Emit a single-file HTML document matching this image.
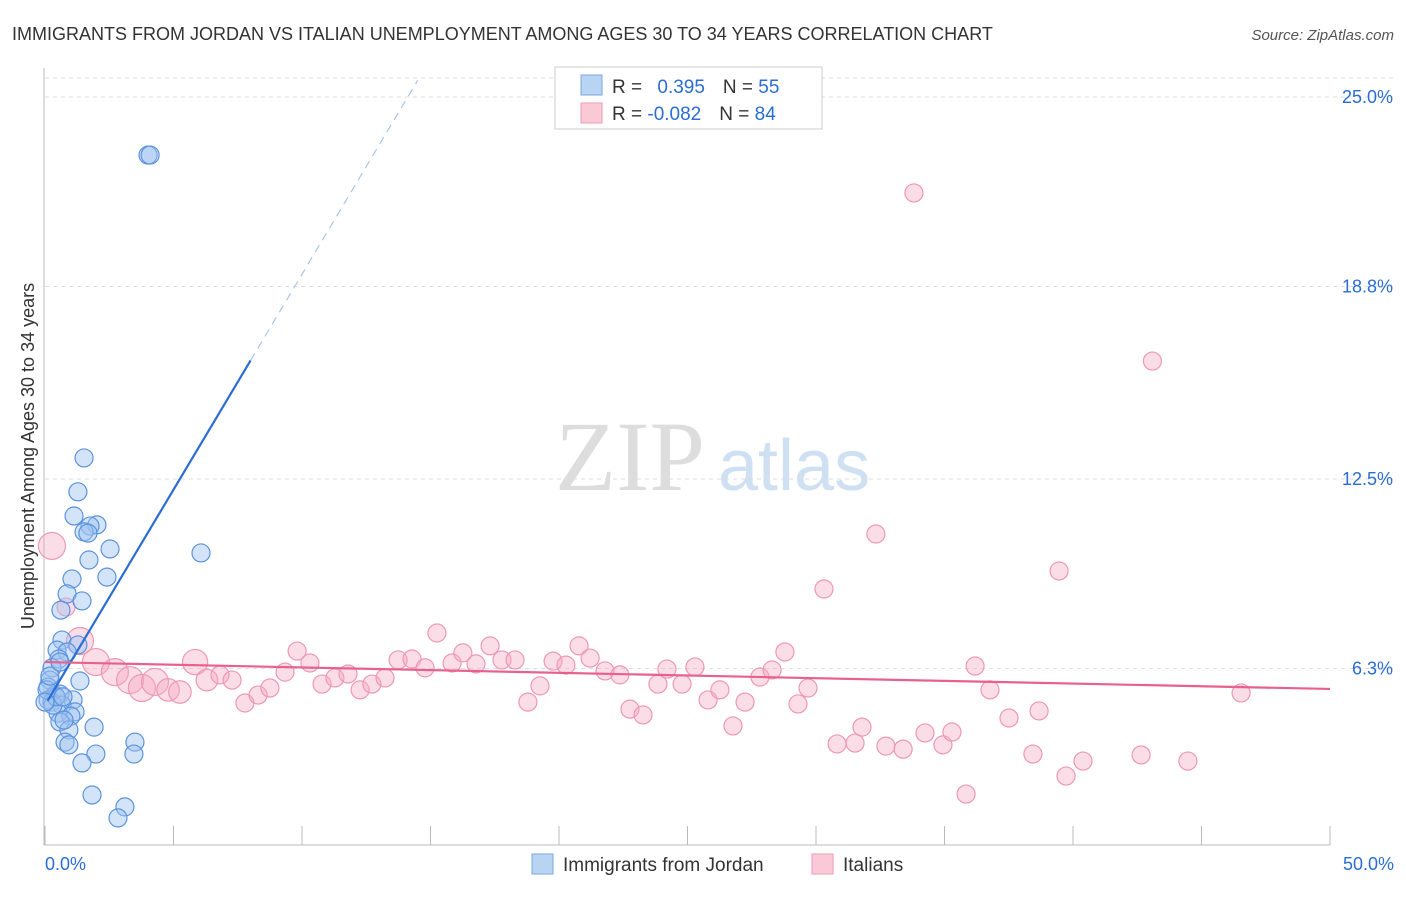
<!DOCTYPE html>
<html><head><meta charset="utf-8"><style>
body{margin:0;background:#fff;font-family:"Liberation Sans",sans-serif}
svg text{font-family:"Liberation Sans",sans-serif}
</style></head><body>
<svg id="c" width="1406" height="892">
<text x="12" y="40" font-size="18" fill="#333">IMMIGRANTS FROM JORDAN VS ITALIAN UNEMPLOYMENT AMONG AGES 30 TO 34 YEARS CORRELATION CHART</text>
<text x="1394" y="40" font-size="15" fill="#555" font-style="italic" text-anchor="end">Source: ZipAtlas.com</text>
<text x="555" y="490" font-size="100" fill="#ddd" font-family="Liberation Serif" style="font-family:'Liberation Serif',serif">ZIP</text>
<text x="718" y="490" font-size="72" fill="#cfe0f3">atlas</text>
<text transform="translate(34,456) rotate(-90)" font-size="18" fill="#333" text-anchor="middle">Unemployment Among Ages 30 to 34 years</text>
<g id="grid"></g><g id="pts"></g><g id="lines"></g>
<g>
<rect x="555" y="67" width="267" height="62" fill="#fff" stroke="#ccc"/>
<rect x="581" y="75" width="21" height="20" fill="#b9d3f3" stroke="#7aa7e0"/>
<rect x="581" y="103" width="21" height="20" fill="#f9c9d7" stroke="#ef9ab3"/>
<text x="612" y="93" font-size="19" fill="#333">R = <tspan fill="#2a6dd4" dx="10">0.395</tspan><tspan dx="18" fill="#333">N = </tspan><tspan fill="#2a6dd4">55</tspan></text>
<text x="612" y="120" font-size="19" fill="#333">R = <tspan fill="#2a6dd4">-0.082</tspan><tspan dx="18" fill="#333">N = </tspan><tspan fill="#2a6dd4">84</tspan></text>
</g>
<g>
<rect x="532" y="854" width="21" height="20" fill="#b9d3f3" stroke="#7aa7e0"/>
<text x="563" y="871" font-size="19" fill="#333">Immigrants from Jordan</text>
<rect x="812" y="854" width="21" height="20" fill="#f9c9d7" stroke="#ef9ab3"/>
<text x="843" y="871" font-size="19" fill="#333">Italians</text>
</g>
</svg>
<script>
const yTicks=[25,18.8,12.5,6.3];
const yTickLabels=["25.0%","18.8%","12.5%","6.3%"];
const xTickLabels=["0.0%","50.0%"];
const blueX=[4.01,4.09,1.52,1.28,1.13,2.02,1.75,1.52,1.67,2.53,1.71,6.07,2.41,1.05,0.86,1.44,0.62,0.66,1.28,0.47,0.86,0.54,0.27,0.19,1.36,0.12,0.39,0.58,0.12,0.27,1.09,0.66,1.17,0.51,1.01,0.58,1.91,0.93,0.78,0.93,3.50,1.98,3.46,1.44,1.83,3.11,2.84,0.31,0.43,0.08,0.19,0.58,0,0.74,0.70];
const blueY=[23.10,23.10,13.19,12.08,11.29,11.00,10.96,10.77,10.73,10.21,9.85,10.08,9.29,9.23,8.74,8.51,8.21,7.23,7.07,6.90,6.84,6.61,6.32,5.92,5.89,5.69,5.43,5.46,5.27,5.20,5.27,5.10,4.88,4.84,4.74,4.55,4.38,4.29,3.89,3.80,3.89,3.50,3.50,3.21,2.16,1.77,1.41,5.10,5.37,5.60,6.05,6.51,5.20,4.61,5.37];
const pinkX=[0.27,0.82,1.36,1.98,2.72,3.31,3.77,4.28,4.79,5.25,5.84,6.30,6.81,7.28,7.78,8.29,8.75,9.34,9.81,10.31,10.78,11.28,11.79,12.26,12.72,13.23,13.74,14.28,14.79,15.25,15.84,16.26,16.77,17.32,17.78,18.29,18.79,19.26,19.77,20.27,20.78,21.21,21.79,22.37,22.76,23.27,23.85,24.20,24.79,25.29,25.80,26.26,26.77,27.24,27.82,28.29,28.79,29.30,29.69,30.31,30.82,31.52,31.79,32.33,32.72,33.39,33.81,34.24,34.94,35.29,35.84,36.19,36.77,37.51,38.44,38.68,39.46,39.73,40.39,42.65,43.09,44.47,46.54];
const pinkY=[10.31,8.31,7.20,6.51,6.18,5.92,5.66,5.86,5.60,5.53,6.51,5.92,6.09,5.92,5.17,5.43,5.66,6.18,6.87,6.48,5.79,5.99,6.12,5.60,5.79,5.99,6.58,6.61,6.32,7.46,6.48,6.81,6.45,7.04,6.58,6.58,5.20,5.73,6.54,6.41,7.04,6.64,6.22,6.09,4.97,4.78,5.79,6.28,5.79,6.35,5.27,5.60,4.42,5.20,6.02,6.25,6.84,5.14,5.66,8.90,3.83,3.86,4.38,10.70,3.76,3.66,21.86,4.19,3.80,4.22,2.19,6.38,5.60,4.68,3.50,4.91,9.49,2.78,3.27,3.47,16.36,3.27,5.50];
const pinkSize=[1.5,1,1.5,1.5,1.5,1.5,1.5,1.5,1.25,1.25,1.4,1.2,1,1,1,1,1,1,1,1,1,1,1,1,1,1,1,1,1,1,1,1,1,1,1,1,1,1,1,1,1,1,1,1,1,1,1,1,1,1,1,1,1,1,1,1,1,1,1,1,1,1,1,1,1,1,1,1,1,1,1,1,1,1,1,1,1,1,1,1,1,1,1];
const blueTrend=[5.1,1.41];
const pinkTrend=[6.51,-0.0176];
const X=v=>45+v*25.7, Y=v=>861-v*30.56;
const NS="http://www.w3.org/2000/svg";
function mk(t,a,p){const e=document.createElementNS(NS,t);for(const k in a)e.setAttribute(k,a[k]);p.appendChild(e);return e;}
const grid=document.getElementById('grid');
const g0=mk('line',{x1:45,x2:1394,y1:78,y2:78,stroke:'#ddd','stroke-dasharray':'4,4'},grid);


yTicks.forEach((t,i)=>{
 const l=mk('line',{x1:45,x2:1394,y1:Y(t),y2:Y(t),stroke:'#ddd','stroke-dasharray':'4,4'},grid);
 
 
 const tx=mk('text',{x:1393,y:Y(t)+6,'font-size':18,fill:'#2a6dd4','text-anchor':'end'},grid);tx.textContent=yTickLabels[i];
 
 
});
const ax=mk('line',{x1:44,x2:44,y1:68,y2:845,stroke:'#bbb'},grid);


const bx=mk('line',{x1:44,x2:1330,y1:845,y2:845,stroke:'#bbb'},grid);


for(let i=0;i<=10;i++){const t=mk('line',{x1:X(i*5),x2:X(i*5),y1:826,y2:845,stroke:'#bbb'},grid);
 
 }
[[0,'start',45],[50,'end',1394]].forEach((d,i)=>{const t=mk('text',{x:d[2],y:870,'font-size':18,fill:'#2a6dd4','text-anchor':d[1]},grid);t.textContent=xTickLabels[i];
 
 });
const pts=document.getElementById('pts');
pinkX.forEach((x,i)=>{const c=mk('circle',{cx:X(x),cy:Y(pinkY[i]),r:9*pinkSize[i],fill:'rgba(246,170,195,0.4)',stroke:'#ee98b4','stroke-width':1.2},pts);
 
 });
blueX.forEach((x,i)=>{const c=mk('circle',{cx:X(x),cy:Y(blueY[i]),r:9,fill:'rgba(160,195,240,0.45)',stroke:'#5b93de','stroke-width':1.2},pts);
 
 });
const L=document.getElementById('lines');
const b1=mk('line',{x1:X(0.1),y1:Y(blueTrend[0]+0.1*blueTrend[1]),x2:X(8),y2:Y(blueTrend[0]+8*blueTrend[1]),stroke:'#2a6dd4','stroke-width':2.2},L);


const b2=mk('line',{x1:X(8),y1:Y(blueTrend[0]+8*blueTrend[1]),x2:X(14.5),y2:Y(blueTrend[0]+14.5*blueTrend[1]),stroke:'#a9c5ec','stroke-width':1.2,'stroke-dasharray':'8,6'},L);


const p1=mk('line',{x1:X(0),y1:Y(pinkTrend[0]),x2:X(50),y2:Y(pinkTrend[0]+50*pinkTrend[1]),stroke:'#e8608c','stroke-width':2.2},L);


</script>
</body></html>
